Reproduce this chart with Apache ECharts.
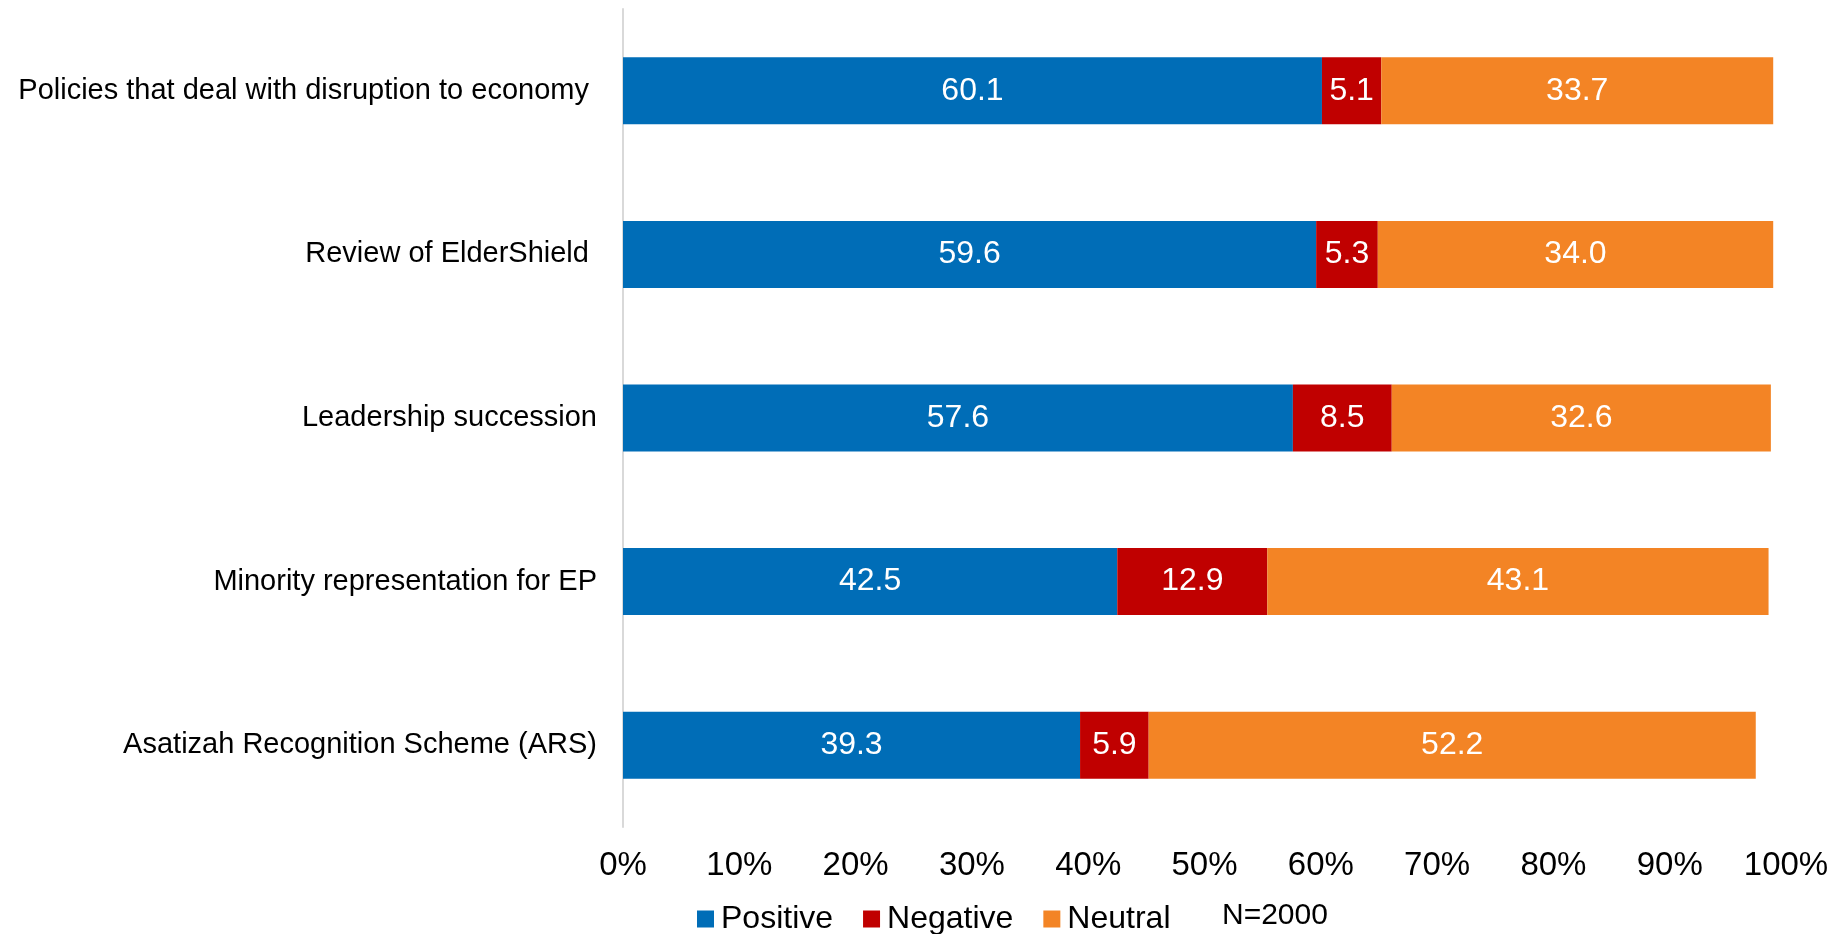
<!DOCTYPE html>
<html>
<head>
<meta charset="utf-8">
<title>Policy sentiment</title>
<script src="https://cdn.jsdelivr.net/npm/echarts@6/dist/echarts.min.js"></script>
<style>
  html, body { margin: 0; padding: 0; background: #fff; }
  #chart { width: 1848px; height: 934px; }
</style>
</head>
<body>
<div id="chart"></div>
<script>
// Survey topics (top to bottom)
const categories = [
  'Policies that deal with disruption to economy ',
  'Review of ElderShield ',
  'Leadership succession',
  'Minority representation for EP',
  'Asatizah Recognition Scheme (ARS)'
];
// Share of responses, %
const positive = [60.1, 59.6, 57.6, 42.5, 39.3];
const negative = [5.1, 5.3, 8.5, 12.9, 5.9];
const neutral  = [33.7, 34.0, 32.6, 43.1, 52.2];
const sampleNote = 'N=2000';

const FONT = "'Liberation Sans', Arial, sans-serif";

const chart = echarts.init(document.getElementById('chart'));

function stackSeries(name, data, color) {
  return {
    name: name,
    type: 'bar',
    stack: 'total',
    data: data,
    barWidth: 67,
    itemStyle: { color: color },
    label: {
      show: true,
      position: 'inside',
      color: '#ffffff',
      fontFamily: FONT,
      fontSize: 32,
      formatter: p => p.value.toFixed(1)
    },
    emphasis: { disabled: true }
  };
}

chart.setOption({
  animation: false,
  textStyle: { fontFamily: FONT },
  grid: { left: 623, right: 62, top: 9, bottom: 107, containLabel: false, outerBoundsMode: 'none' },
  xAxis: {
    type: 'value',
    min: 0,
    max: 100,
    interval: 10,
    axisLine: { show: false },
    axisTick: { show: false },
    splitLine: { show: false },
    axisLabel: {
      formatter: '{value}%',
      color: '#000000',
      fontFamily: FONT,
      fontSize: 33,
      margin: 22
    }
  },
  yAxis: {
    type: 'category',
    data: categories,
    inverse: true,
    axisLine: { show: true, lineStyle: { color: '#d9d9d9', width: 2 } },
    axisTick: { show: false },
    axisLabel: {
      color: '#000000',
      fontFamily: FONT,
      fontSize: 29,
      margin: 26,
      padding: [4, 0, 0, 0]
    }
  },
  legend: {
    left: 692,
    top: 898,
    icon: 'rect',
    itemWidth: 17,
    itemHeight: 17,
    itemGap: 30,
    selectedMode: false,
    textStyle: { color: '#000000', fontFamily: FONT, fontSize: 32, padding: [0, 0, 0, 2] },
    data: ['Positive', 'Negative', 'Neutral']
  },
  graphic: [{
    type: 'text',
    left: 1222,
    top: 901,
    style: { text: sampleNote, fill: '#000000', font: '30px ' + FONT }
  }],
  series: [
    stackSeries('Positive', positive, '#006DB7'),
    stackSeries('Negative', negative, '#C00000'),
    stackSeries('Neutral', neutral, '#F38425')
  ]
});
</script>
</body>
</html>
